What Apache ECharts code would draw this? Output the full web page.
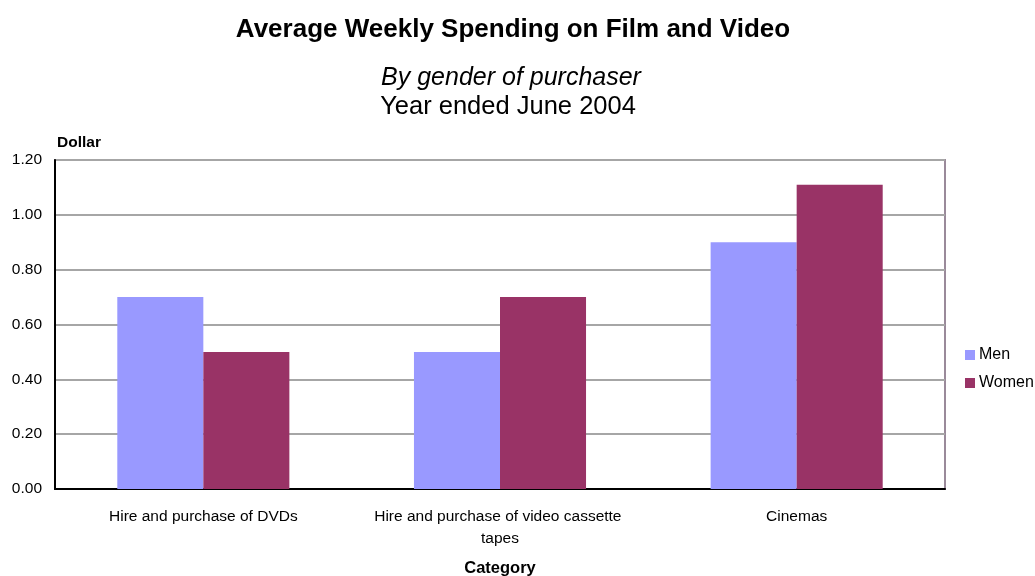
<!DOCTYPE html>
<html>
<head>
<meta charset="utf-8">
<script src="https://cdn.jsdelivr.net/npm/echarts@6/dist/echarts.min.js"></script>
<style>
  html, body { margin: 0; padding: 0; background: #ffffff; }
  #chart { width: 1035px; height: 576px; }
</style>
</head>
<body>
<div id="chart"></div>
<script>
// Spending categories and weekly averages (dollars)
const categories = [
  'Hire and purchase of DVDs',
  'Hire and purchase of video cassette tapes',
  'Cinemas'
];
const menValues = [0.70, 0.50, 0.90];
const womenValues = [0.50, 0.70, 1.11];
const yTicks = [0, 0.2, 0.4, 0.6, 0.8, 1.0, 1.2];

const FONT = '"Liberation Sans", Arial, sans-serif';

const chart = echarts.init(document.getElementById('chart'));
chart.setOption({
  animation: false,
  backgroundColor: '#ffffff',
  textStyle: { fontFamily: FONT },
  title: [
    {
      text: 'Average Weekly Spending on Film and Video',
      left: 508, top: 12, textAlign: 'center',
      textStyle: { fontFamily: FONT, fontSize: 26, fontWeight: 'bold', color: '#000' }
    },
    {
      text: 'By gender of purchaser',
      left: 506, top: 61, textAlign: 'center',
      textStyle: { fontFamily: FONT, fontSize: 25, fontStyle: 'italic', fontWeight: 'normal', color: '#000' }
    },
    {
      text: 'Year ended June 2004',
      left: 503, top: 89, textAlign: 'center',
      textStyle: { fontFamily: FONT, fontSize: 25.5, fontWeight: 'normal', color: '#000' }
    }
  ],
  legend: {
    orient: 'vertical',
    left: 960, top: 342,
    itemWidth: 10, itemHeight: 10,
    itemGap: 12,
    icon: 'rect',
    textStyle: { fontFamily: FONT, fontSize: 16, color: '#000', padding: [0, 0, 0, -1] },
    data: ['Men', 'Women']
  },
  grid: {
    left: 55, right: 90, top: 160, bottom: 87,
    outerBoundsMode: 'none',
    containLabel: false,
    show: true,
    borderColor: '#9a8a9a',
    borderWidth: 2,
    backgroundColor: '#ffffff'
  },
  xAxis: {
    type: 'category',
    data: categories,
    name: 'Category',
    nameLocation: 'middle',
    nameGap: 71,
    nameTextStyle: { fontFamily: FONT, fontSize: 16.5, fontWeight: 'bold', color: '#000' },
    axisLine: { show: true, lineStyle: { color: '#000', width: 2 } },
    axisTick: { show: false },
    axisLabel: {
      fontFamily: FONT, fontSize: 15.5, color: '#000',
      margin: 17, width: 285, overflow: 'break', lineHeight: 22, interval: 0
    }
  },
  yAxis: {
    type: 'value',
    min: yTicks[0], max: yTicks[yTicks.length - 1], interval: 0.2,
    name: 'Dollar',
    nameLocation: 'end',
    nameGap: 9,
    nameTextStyle: { fontFamily: FONT, fontSize: 15.5, fontWeight: 'bold', color: '#000', align: 'left', padding: [0, 0, 0, 2] },
    axisLine: { show: true, lineStyle: { color: '#000', width: 2 } },
    axisTick: { show: false },
    axisLabel: {
      fontFamily: FONT, fontSize: 15.5, color: '#000', margin: 13,
      formatter: v => v.toFixed(2)
    },
    splitLine: { show: true, lineStyle: { color: '#a6a6a6', width: 2 } }
  },
  series: [
    {
      name: 'Men', type: 'bar', data: menValues,
      itemStyle: { color: '#9999ff' },
      barGap: '0%', barCategoryGap: '42%'
    },
    {
      name: 'Women', type: 'bar', data: womenValues,
      itemStyle: { color: '#993366' },
      barGap: '0%', barCategoryGap: '42%'
    }
  ]
});
</script>
</body>
</html>
